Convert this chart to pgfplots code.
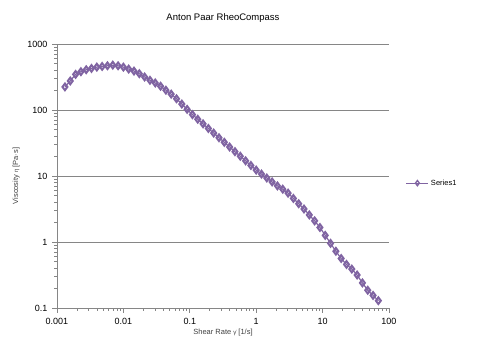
\documentclass[border=0pt]{standalone}
\usepackage{fontspec}
\setmainfont{Liberation Sans}
\usepackage{pgfplots}
\pgfplotsset{compat=1.18}
\definecolor{serpurple}{RGB}{128,100,162}
\definecolor{gridgray}{RGB}{134,134,134}
\begin{document}
\begin{tikzpicture}[x=1pt,y=1pt]
\useasboundingbox (-57pt,-46pt) rectangle (420pt,308pt);
\begin{axis}[
  scale only axis,
  width=332pt, height=264pt,
  xmode=log, ymode=log,
  xmin=0.001, xmax=100, ymin=0.1, ymax=1000,
  axis x line*=bottom, axis y line*=left,
  axis line style={gridgray, line width=0.8pt},
  xtick={0.001,0.01,0.1,1,10,100},
  xticklabels={0.001,0.01,0.1,1,10,100},
  ytick={0.1,1,10,100,1000},
  yticklabels={0.1,1,10,100,1000},
  minor tick num=0, minor xtick={}, minor ytick={},
  tick align=outside,
  major tick length=5pt,
  tick style={gridgray, line width=0.8pt},
  ymajorgrids,
  grid style={gridgray, line width=0.8pt},
  /pgf/number format/assume math mode=true,
  tick label style={font=\fontsize{9}{10}\selectfont, black},
  xticklabel style={yshift=-2pt},
  yticklabel style={xshift=-1pt},
  title={Anton Paar RheoCompass},
  title style={font=\fontsize{9.5}{11}\selectfont, yshift=12pt},
  xlabel={Shear Rate {\fontsize{6}{7}\selectfont γ̇} [1/s]},
  ylabel={Viscosity {\fontsize{6}{7}\selectfont η} [Pa·s]},
  label style={font=\fontsize{7.5}{9}\selectfont, black!75},
  xlabel style={yshift=3pt},
  ylabel style={yshift=1pt},
  legend style={at={(1.05,0.473)}, anchor=west, draw=none, fill=none,
    font=\fontsize{7.5}{9}\selectfont, inner sep=0pt},
  legend image code/.code={
    \draw[#1, line width=1.2pt] (0pt,0pt) -- (22pt,0pt);
    \draw[#1, mark size=2.6pt, mark options={line width=1.3pt, fill=white, solid}] plot coordinates {(11pt,0pt)};
  },
  legend cell align=left,
  clip=false,
]
\addplot[color=serpurple, line width=1.2pt, mark=diamond, mark size=3.3pt,
  mark options={line width=2pt, fill=white, solid}]
  coordinates {
(0.001318,223.9) (0.001585,275.4) (0.001905,346.7) (0.002291,380.2)
(0.002754,407.4) (0.003311,426.6) (0.003981,446.7) (0.004786,457.1)
(0.005754,467.7) (0.006918,478.6) (0.008318,467.7) (0.01,446.7)
(0.01202,416.9) (0.01445,389.0) (0.01738,354.8) (0.02089,316.2)
(0.02512,281.8) (0.0302,257.0) (0.03631,229.1) (0.04365,199.5)
(0.05248,173.8) (0.0631,147.9) (0.07586,123.0) (0.0912,102.3)
(0.1096,85.1) (0.1318,72.4) (0.1585,61.7) (0.1905,52.5)
(0.2291,44.7) (0.2754,38.0) (0.3311,32.4) (0.3981,27.5)
(0.4786,23.4) (0.5754,19.95) (0.6918,17.0) (0.8318,14.45)
(1,12.3) (1.202,10.7) (1.445,9.33) (1.738,8.13)
(2.089,7.08) (2.512,6.31) (3.02,5.50) (3.631,4.57)
(4.365,3.80) (5.248,3.16) (6.31,2.57) (7.586,2.09)
(9.12,1.66) (10.96,1.26) (13.18,0.955) (15.85,0.724)
(19.05,0.562) (22.91,0.457) (27.54,0.389) (33.11,0.316)
(39.81,0.240) (47.86,0.186) (57.54,0.155) (69.18,0.129)
  };
\addlegendentry{Series1}
\end{axis}
\end{tikzpicture}
\end{document}
